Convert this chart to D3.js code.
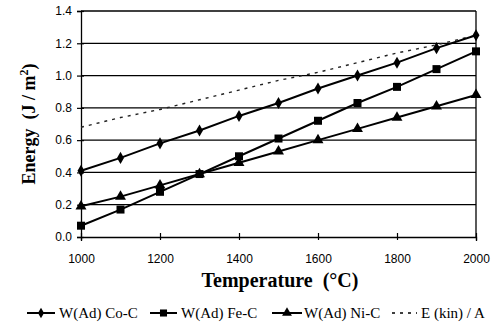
<!DOCTYPE html>
<html>
<head>
<meta charset="utf-8">
<script src="https://cdn.jsdelivr.net/npm/d3@7"></script>
<style>
  body { margin: 0; background: #fff; }
  svg text { fill: #000; }
  .tick-label { font-family: Arial, "Liberation Sans", sans-serif; font-size: 12px; }
  .axis-title { font-family: "Liberation Serif", "Times New Roman", serif; font-weight: bold; white-space: pre; }
  .legend-label { font-family: "Liberation Serif", "Times New Roman", serif; font-size: 15px; white-space: pre; }
</style>
</head>
<body>
<div id="chart"></div>
<script>
// temperatures (°C)
const temps = [1000, 1100, 1200, 1300, 1400, 1500, 1600, 1700, 1800, 1900, 2000];
// energies (J / m^2)
const coC = [0.41, 0.49, 0.58, 0.66, 0.75, 0.83, 0.92, 1.00, 1.08, 1.17, 1.25];
const feC = [0.07, 0.17, 0.28, 0.39, 0.50, 0.61, 0.72, 0.83, 0.93, 1.04, 1.15];
const niC = [0.19, 0.25, 0.32, 0.39, 0.46, 0.53, 0.60, 0.67, 0.74, 0.81, 0.88];
const eKin = [0.68, 0.74, 0.79, 0.85, 0.91, 0.97, 1.02, 1.08, 1.14, 1.19, 1.25];
const xTicks = [1000, 1200, 1400, 1600, 1800, 2000];
const yTicks = [0.0, 0.2, 0.4, 0.6, 0.8, 1.0, 1.2, 1.4];
const seriesNames = ["W(Ad) Co-C", "W(Ad) Fe-C", "W(Ad) Ni-C", "E (kin) / A"];

const width = 495, height = 326;
const margin = { left: 81, right: 19, top: 11, bottom: 89 };

const svg = d3.select("#chart").append("svg")
  .attr("width", width)
  .attr("height", height);

const x = d3.scaleLinear().domain([1000, 2000]).range([margin.left, width - margin.right]);
const y = d3.scaleLinear().domain([0, 1.4]).range([height - margin.bottom, margin.top]);

// --- gridlines ---
svg.append("g")
  .selectAll("line")
  .data(yTicks.filter(d => d > 0))
  .enter().append("line")
  .attr("x1", x(1000))
  .attr("x2", x(2000))
  .attr("y1", d => y(d))
  .attr("y2", d => y(d))
  .attr("stroke", "#000")
  .attr("stroke-width", 1.3);

// right border
svg.append("line")
  .attr("x1", x(2000)).attr("x2", x(2000))
  .attr("y1", y(1.4)).attr("y2", y(0))
  .attr("stroke", "#000").attr("stroke-width", 1.3);

// --- axes ---
const xAxis = svg.append("g")
  .attr("transform", `translate(0,${y(0)})`)
  .call(d3.axisBottom(x).tickValues(xTicks).tickSize(4).tickFormat(d3.format("d")));
xAxis.selectAll(".tick line").attr("y1", -4).attr("y2", 3);
xAxis.selectAll("text").attr("class", "tick-label").attr("dy", "1.55em");

const yAxis = svg.append("g")
  .attr("transform", `translate(${x(1000)},0)`)
  .call(d3.axisLeft(y).tickValues(yTicks).tickSize(4).tickFormat(d3.format(".1f")));
yAxis.selectAll(".tick line").attr("x1", -4).attr("x2", 3);
yAxis.selectAll("text").attr("class", "tick-label").attr("x", -9);

svg.selectAll(".domain").attr("stroke", "#000").attr("stroke-width", 1.3);
svg.selectAll(".tick line").attr("stroke", "#000").attr("stroke-width", 1.2);
svg.selectAll(".tick text").style("font-family", "Arial, 'Liberation Sans', sans-serif").style("font-size", "12px");

// --- lines ---
const line = d3.line().x((d, i) => x(temps[i])).y(d => y(d));

svg.append("path")
  .datum(eKin)
  .attr("d", line)
  .attr("fill", "none")
  .attr("stroke", "#222")
  .attr("stroke-width", 1.4)
  .attr("stroke-dasharray", "3,5");

const solid = [
  { data: coC, shape: d3.symbolDiamond, size: 42 },
  { data: feC, shape: d3.symbolSquare, size: 64 },
  { data: niC, shape: d3.symbolTriangle, size: 52 }
];

solid.forEach(s => {
  svg.append("path")
    .datum(s.data)
    .attr("d", line)
    .attr("fill", "none")
    .attr("stroke", "#000")
    .attr("stroke-width", 2);

  svg.append("g")
    .selectAll("path")
    .data(s.data)
    .enter().append("path")
    .attr("transform", (d, i) => `translate(${x(temps[i])},${y(d)})`)
    .attr("d", d3.symbol().type(s.shape).size(s.size))
    .attr("fill", "#000");
});

// --- axis titles ---
svg.append("text")
  .attr("class", "axis-title")
  .attr("x", 280)
  .attr("y", 287)
  .attr("text-anchor", "middle")
  .style("font-size", "20px")
  .text("Temperature  (°C)");

svg.append("text")
  .attr("class", "axis-title")
  .attr("transform", "translate(35,124) rotate(-90)")
  .attr("text-anchor", "middle")
  .style("font-size", "18px")
  .html('Energy  (J / m<tspan dy="-7" style="font-size:12px">2</tspan><tspan dy="7">)</tspan>');

// --- legend ---
const legendY = 313;
const legendItems = [
  { x0: 27, x1: 55, shape: d3.symbolDiamond, size: 32, tx: 59 },
  { x0: 150, x1: 177, shape: d3.symbolSquare, size: 50, tx: 181 },
  { x0: 272, x1: 302, shape: d3.symbolTriangle, size: 42, tx: 304 },
  { x0: 392, x1: 417, shape: null, size: 0, tx: 421 }
];

const legend = svg.append("g");
legendItems.forEach((it, i) => {
  legend.append("line")
    .attr("x1", it.x0).attr("x2", it.x1)
    .attr("y1", legendY).attr("y2", legendY)
    .attr("stroke", "#000")
    .attr("stroke-width", it.shape ? 2 : 1.4)
    .attr("stroke-dasharray", it.shape ? null : "3,5");
  if (it.shape) {
    legend.append("path")
      .attr("transform", `translate(${(it.x0 + it.x1) / 2},${legendY})`)
      .attr("d", d3.symbol().type(it.shape).size(it.size))
      .attr("fill", "#000");
  }
  legend.append("text")
    .attr("class", "legend-label")
    .attr("x", it.tx)
    .attr("y", legendY + 5)
    .text(seriesNames[i]);
});
</script>
</body>
</html>
